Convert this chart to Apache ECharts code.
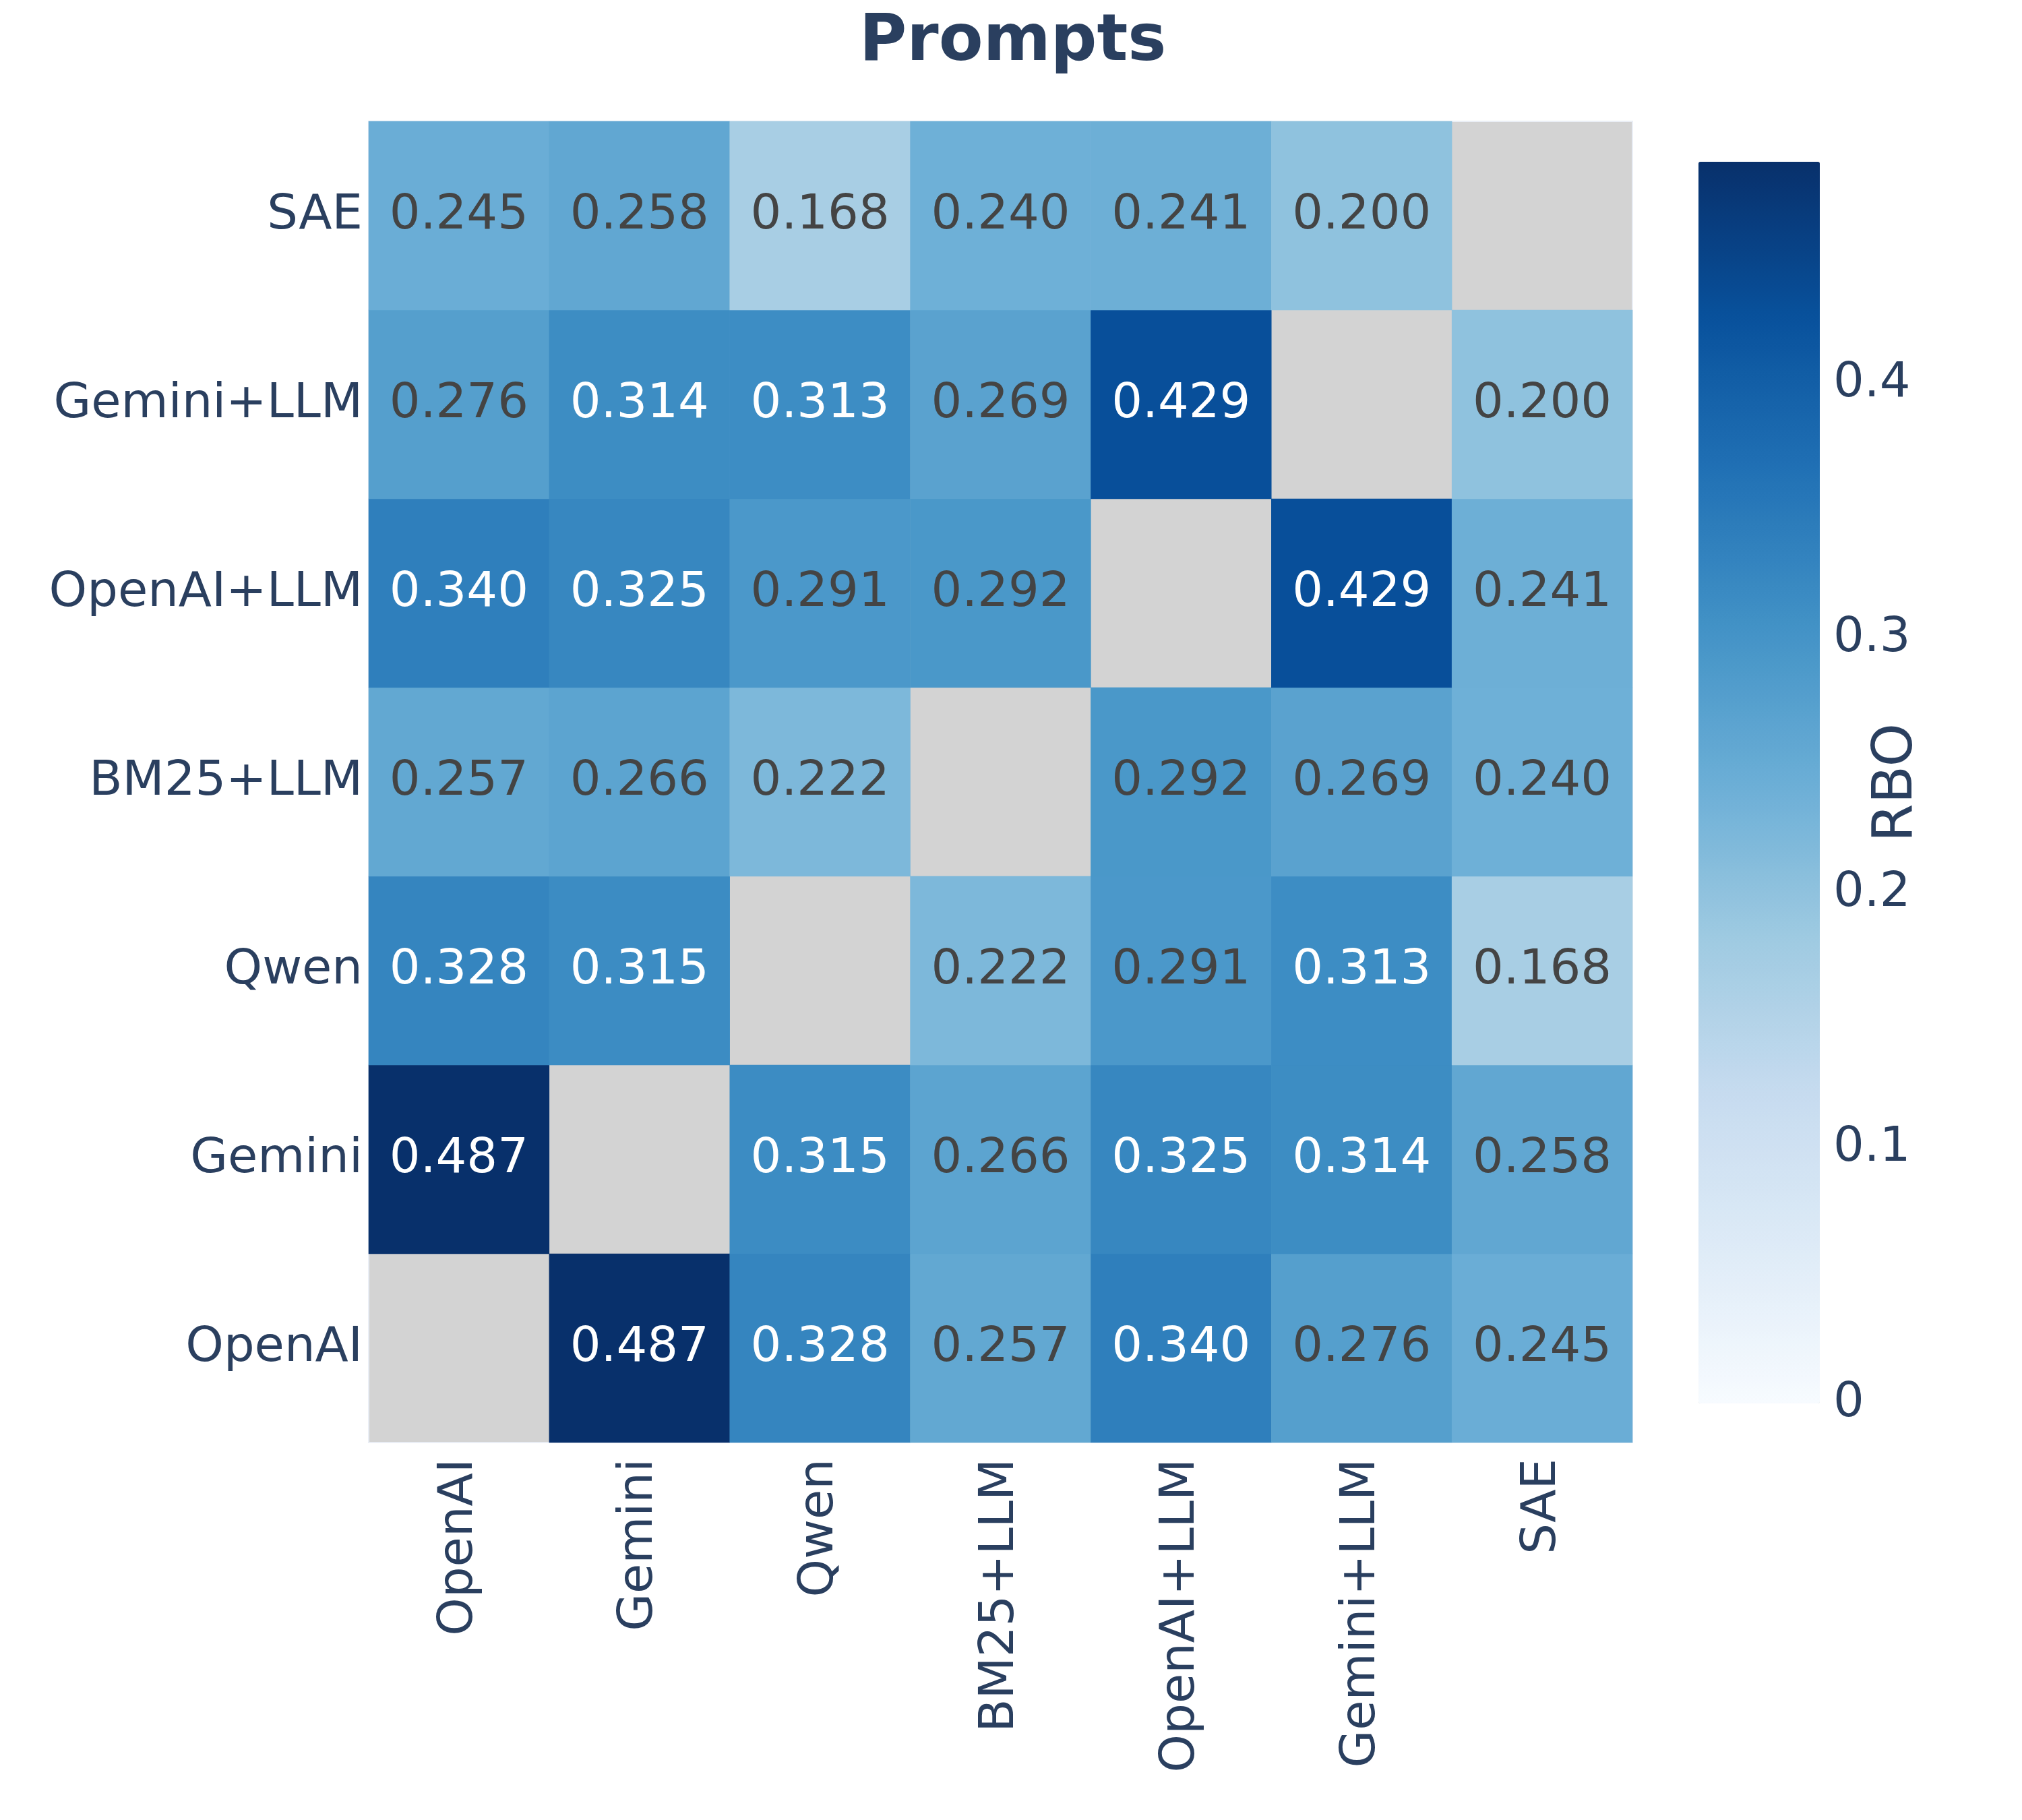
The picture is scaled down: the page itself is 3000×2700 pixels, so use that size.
<!DOCTYPE html>
<html>
<head>
<meta charset="utf-8">
<script src="https://cdn.jsdelivr.net/npm/echarts@6/dist/echarts.min.js"></script>
<style>html,body{margin:0;padding:0;background:#fff}#c{width:3000px;height:2700px}</style>
</head>
<body>
<div id="c"></div>
<script>
// Categories (x left→right, y bottom→top)
const categories = ['OpenAI', 'Gemini', 'Qwen', 'BM25+LLM', 'OpenAI+LLM', 'Gemini+LLM', 'SAE'];
// RBO values: rowValues[row][col]; null on the diagonal
const rowOpenAI    = [null, 0.487, 0.328, 0.257, 0.340, 0.276, 0.245];
const rowGemini    = [0.487, null, 0.315, 0.266, 0.325, 0.314, 0.258];
const rowQwen      = [0.328, 0.315, null, 0.222, 0.291, 0.313, 0.168];
const rowBM25LLM   = [0.257, 0.266, 0.222, null, 0.292, 0.269, 0.240];
const rowOpenAILLM = [0.340, 0.325, 0.291, 0.292, null, 0.429, 0.241];
const rowGeminiLLM = [0.276, 0.314, 0.313, 0.269, 0.429, null, 0.200];
const rowSAE       = [0.245, 0.258, 0.168, 0.240, 0.241, 0.200, null];
const colorbarTicks = [0, 0.1, 0.2, 0.3, 0.4];
const vMin = 0, vMax = 0.487;
const titleText = 'Prompts';
const colorbarLabel = 'RBO';

const rows = [rowOpenAI, rowGemini, rowQwen, rowBM25LLM, rowOpenAILLM, rowGeminiLLM, rowSAE];
const blues = ['#f7fbff', '#deebf7', '#c6dbef', '#9ecae1', '#6baed6', '#4292c6', '#2171b5', '#08519c', '#08306b'];
const FONT = 'DejaVu Sans';
const TXT = '#2a3f5f';

const data = [];
rows.forEach((r, yi) => r.forEach((v, xi) => {
  if (v === null) return;
  data.push({ value: [xi, yi, v], label: { color: v >= 0.3 ? '#ffffff' : '#444444' } });
}));

const chart = echarts.init(document.getElementById('c'), null, { renderer: 'canvas' });
chart.setOption({
  backgroundColor: '#ffffff',
  animation: false,
  title: {
    text: titleText, left: 1275, top: 16, padding: 0,
    textStyle: { fontFamily: FONT, fontWeight: 'bold', fontSize: 96, color: TXT }
  },
  grid: [
    { left: 547, top: 180, width: 1875, height: 1960, show: true, backgroundColor: '#d3d3d3', borderColor: '#eaeef5', borderWidth: 2, containLabel: false },
    { left: 2520, top: 240, width: 180, height: 1842, show: false, containLabel: false }
  ],
  xAxis: [
    { type: 'category', data: categories, gridIndex: 0, position: 'bottom',
      axisLine: { show: false }, axisTick: { show: false }, splitLine: { show: false },
      axisLabel: { rotate: 90, margin: 24, fontFamily: FONT, fontSize: 72, color: TXT } },
    { type: 'value', gridIndex: 1, show: false, min: 0, max: 1 }
  ],
  yAxis: [
    { type: 'category', data: categories, gridIndex: 0,
      axisLine: { show: false }, axisTick: { show: false }, splitLine: { show: false },
      axisLabel: { margin: 9, fontFamily: FONT, fontSize: 72, color: TXT } },
    { type: 'value', gridIndex: 1, position: 'right', min: vMin, max: vMax, interval: 0.1,
      axisLine: { show: false }, axisTick: { show: false }, splitLine: { show: false },
      axisLabel: { margin: 20, showMaxLabel: false, fontFamily: FONT, fontSize: 72, color: TXT,
        formatter: v => colorbarTicks.some(t => Math.abs(t - v) < 1e-9) ? (v === 0 ? '0' : v.toFixed(1)) : '' },
      name: colorbarLabel, nameLocation: 'middle', nameRotate: 90, nameGap: 74, nameMoveOverlap: false,
      nameTextStyle: { fontFamily: FONT, fontSize: 82, color: TXT } }
  ],
  visualMap: {
    type: 'continuous', min: vMin, max: vMax, seriesIndex: 0,
    left: 2520, top: 240, itemWidth: 180, itemHeight: 1842, padding: 0,
    calculable: false, hoverLink: false, text: null, showLabel: false,
    inRange: { color: blues }, orient: 'vertical'
  },
  series: [
    { type: 'heatmap', xAxisIndex: 0, yAxisIndex: 0, data: data,
      label: { show: true, fontFamily: FONT, fontSize: 72, formatter: p => p.value[2].toFixed(3) },
      itemStyle: { borderWidth: 0 }, emphasis: { disabled: true } },
    { type: 'scatter', xAxisIndex: 1, yAxisIndex: 1, data: [], silent: true }
  ]
});
</script>
</body>
</html>
